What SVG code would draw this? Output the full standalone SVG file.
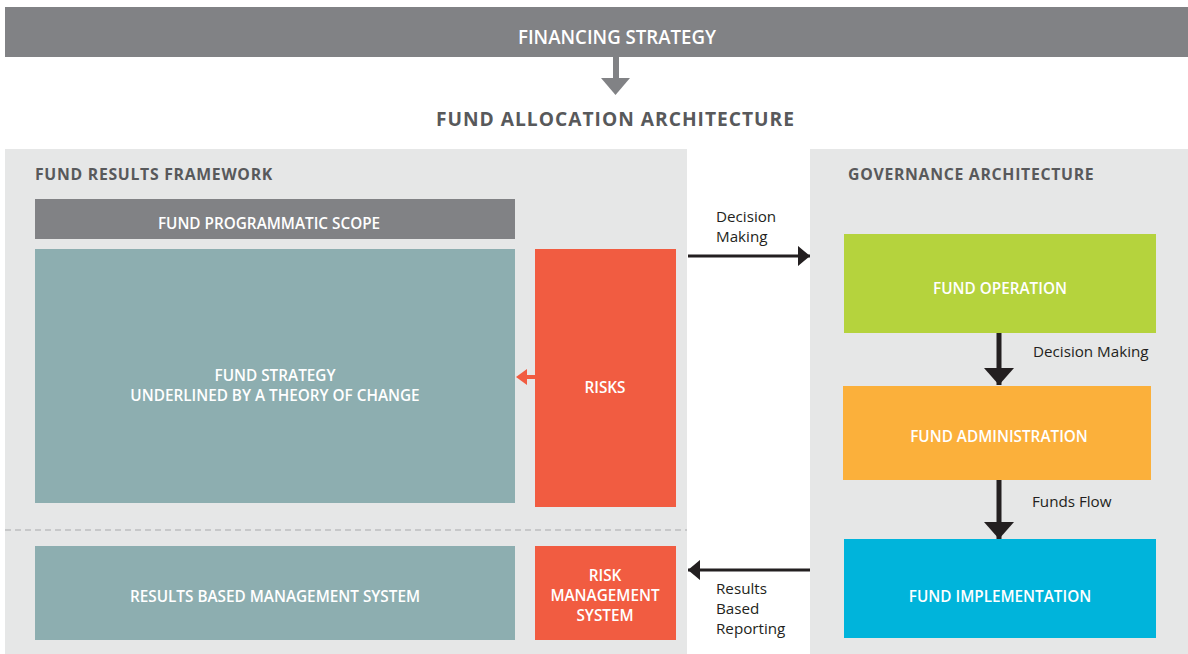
<svg xmlns="http://www.w3.org/2000/svg" width="1188" height="654" viewBox="0 0 1188 654">
<style>
.panel{fill:#e6e7e7}
.w{font-family:"Open Sans","Liberation Sans",sans-serif;font-weight:600;fill:#ffffff;text-anchor:middle;font-size:15.3px}
.h{font-family:"Open Sans","Liberation Sans",sans-serif;font-weight:700;fill:#58595b;font-size:15.8px;letter-spacing:0.7px}
.lbl{font-family:"Open Sans","Liberation Sans",sans-serif;font-weight:400;fill:#231f20;font-size:15.2px}
.conn{stroke:#231f20;stroke-width:3;fill:none}
</style>
<defs>
<marker id="ah" viewBox="0 0 10 10" refX="10" refY="5" markerWidth="4" markerHeight="6.7" markerUnits="strokeWidth" orient="auto" preserveAspectRatio="none">
<path d="M0,0 L10,5 L0,10 Z" fill="#231f20"/>
</marker>
<marker id="ahv" viewBox="0 0 10 10" refX="10" refY="5" markerWidth="3.4" markerHeight="6" markerUnits="strokeWidth" orient="auto" preserveAspectRatio="none">
<path d="M0,0 L10,5 L0,10 Z" fill="#231f20"/>
</marker>
</defs>
<rect x="0" y="0" width="1188" height="654" fill="#ffffff"/>
<g id="financing-strategy">
<rect x="5" y="7" width="1183" height="50" fill="#818285"/>
<text class="w" x="617" y="44" style="font-size:19px" textLength="198" lengthAdjust="spacingAndGlyphs">FINANCING STRATEGY</text>
</g>
<g id="top-arrow">
<rect x="613" y="57" width="6" height="22" fill="#818285"/>
<path d="M601,78 L630,78 L615.5,95 Z" fill="#818285"/>
</g>
<text x="615.5" y="126" style="font-family:'Open Sans','Liberation Sans',sans-serif;font-weight:700;font-size:19.2px;fill:#58595b;text-anchor:middle;letter-spacing:1px">FUND ALLOCATION ARCHITECTURE</text>
<g id="fund-results-framework">
<rect class="panel" x="5" y="149" width="682" height="505"/>
<text class="h" x="35" y="180">FUND RESULTS FRAMEWORK</text>
<line x1="5" y1="530" x2="687" y2="530" stroke="#a7a9ab" stroke-width="1.2" stroke-dasharray="6,4"/>
</g>
<g id="governance-architecture">
<rect class="panel" x="810" y="149" width="378" height="505"/>
<text class="h" x="848" y="180">GOVERNANCE ARCHITECTURE</text>
</g>
<g id="programmatic-scope">
<rect x="35" y="199" width="480" height="40" fill="#818285"/>
<text class="w" x="269" y="229">FUND PROGRAMMATIC SCOPE</text>
</g>
<g id="fund-strategy">
<rect x="35" y="249" width="480" height="254" fill="#8daeb0"/>
<text class="w" x="275" y="381">FUND STRATEGY</text>
<text class="w" x="275" y="401">UNDERLINED BY A THEORY OF CHANGE</text>
</g>
<g id="risks">
<rect x="535" y="249" width="141" height="258" fill="#f15c41"/>
<text class="w" x="605" y="393">RISKS</text>
</g>
<g id="results-based-management">
<rect x="35" y="546" width="480" height="94" fill="#8daeb0"/>
<text class="w" x="275" y="602">RESULTS BASED MANAGEMENT SYSTEM</text>
</g>
<g id="risk-management-system">
<rect x="535" y="546" width="141" height="94" fill="#f15c41"/>
<text class="w" x="605" y="581">RISK</text>
<text class="w" x="605" y="601">MANAGEMENT</text>
<text class="w" x="605" y="621">SYSTEM</text>
</g>
<g id="fund-operation">
<rect x="844" y="234" width="312" height="99" fill="#b5d33d"/>
<text class="w" x="1000" y="294">FUND OPERATION</text>
</g>
<g id="fund-administration">
<rect x="843" y="386" width="308" height="94" fill="#fbb03b"/>
<text class="w" x="999" y="442">FUND ADMINISTRATION</text>
</g>
<g id="fund-implementation">
<rect x="844" y="539" width="312" height="99" fill="#00b4db"/>
<text class="w" x="1000" y="602">FUND IMPLEMENTATION</text>
</g>
<g id="connectors">
<path d="M535,377 L526,377" stroke="#f15c41" stroke-width="4"/>
<path d="M516,377 L527,369 L527,385 Z" fill="#f15c41"/>
<line class="conn" x1="688" y1="256" x2="810" y2="256" marker-end="url(#ah)"/>
<line class="conn" x1="999" y1="333" x2="999" y2="385" style="stroke-width:5" marker-end="url(#ahv)"/>
<line class="conn" x1="999" y1="480" x2="999" y2="539" style="stroke-width:5" marker-end="url(#ahv)"/>
<line class="conn" x1="810" y1="570" x2="688" y2="570" marker-end="url(#ah)"/>
</g>
<g id="labels">
<text class="lbl" x="716" y="222">Decision</text>
<text class="lbl" x="716" y="242">Making</text>
<text class="lbl" x="1033" y="357">Decision Making</text>
<text class="lbl" x="1032" y="507">Funds Flow</text>
<text class="lbl" x="716" y="594">Results</text>
<text class="lbl" x="716" y="614">Based</text>
<text class="lbl" x="716" y="634">Reporting</text>
</g>
</svg>
